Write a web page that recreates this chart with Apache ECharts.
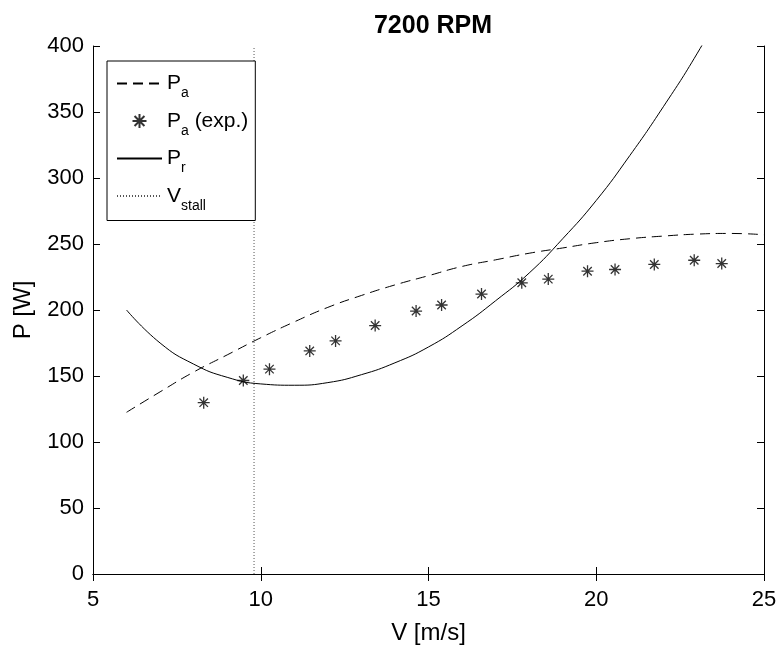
<!DOCTYPE html>
<html>
<head>
<meta charset="utf-8">
<script src="https://cdn.jsdelivr.net/npm/echarts@6/dist/echarts.min.js"></script>
<style>html,body{margin:0;padding:0;background:#fff}#c{width:777px;height:646px}</style>
</head>
<body>
<div id="c"></div>
<script>
// Pa (model) curve
const paV = [6, 7, 8, 9, 10, 11, 12, 13, 14, 15, 16, 17, 18, 19, 20, 21, 22, 23, 24, 25];
const paP = [122.5, 138, 153, 166, 179, 191, 202, 211, 219, 226, 233, 238, 243, 247, 251, 254, 256, 257.5, 258, 257];
// Pa experimental points
const expV = [8.3, 9.48, 10.26, 11.46, 12.23, 13.41, 14.63, 15.39, 16.58, 17.78, 18.57, 19.74, 20.56, 21.73, 22.92, 23.74];
const expP = [129.8, 146.6, 155.2, 169, 176.6, 188.2, 199.2, 203.8, 212.1, 220.6, 223.4, 229.4, 230.7, 234.5, 237.7, 235.2];
// Pr curve
const prV = [6, 7, 8, 9, 10, 11, 12, 13, 14, 15, 16, 17, 18, 19, 20, 21, 22, 23, 24];
const prP = [200, 175, 159, 149, 144, 143, 145, 151, 160, 172, 188, 207, 228, 254, 283, 317, 354, 394, 439];
// stall speed
const vStall = 9.8;
const stallP = [0, 400];
const xTicks = [5, 10, 15, 20, 25];
const yTicks = [0, 50, 100, 150, 200, 250, 300, 350, 400];

const zip = (a, b) => a.map((v, i) => [v, b[i]]);
const FONT = 'Liberation Sans, Arial, Helvetica, sans-serif';
const star = 'path://M0,-1L0,1M-1,0L1,0M-0.707,-0.707L0.707,0.707M-0.707,0.707L0.707,-0.707';
const rich = {
  m: {fontSize: 21, fontFamily: FONT, color: '#000'},
  s: {fontSize: 14, fontFamily: FONT, color: '#000', padding: [20, 0, 0, 0]}
};
const names = {
  'Pa': '{m|P}{s|a}',
  'PaExp': '{m|P}{s|a}{m| (exp.)}',
  'Pr': '{m|P}{s|r}',
  'Vstall': '{m|V}{s|stall}'
};
const hideSym = {opacity: 0};
const axisLineStyle = {color: '#000', width: 1};
const chart = echarts.init(document.getElementById('c'));
chart.setOption({
  animation: false,
  backgroundColor: '#fff',
  title: {
    text: '7200 RPM', left: 428, top: 9, textAlign: 'center',
    textStyle: {fontFamily: FONT, fontSize: 25, fontWeight: 'bold', color: '#000'}
  },
  grid: {left: 93, right: 13, top: 46, bottom: 72, outerBoundsMode: 'none', containLabel: false},
  legend: {
    left: 107, top: 61, orient: 'vertical',
    backgroundColor: '#fff', borderColor: '#000', borderWidth: 1,
    padding: [12, 7, 7.5, 9], itemWidth: 45, itemHeight: 14, itemGap: 10,
    textStyle: {fontFamily: FONT, fontSize: 21, color: '#000', rich: rich},
    formatter: n => names[n],
    data: [
      {name: 'Pa', itemStyle: hideSym},
      {name: 'PaExp'},
      {name: 'Pr', itemStyle: hideSym},
      {name: 'Vstall', itemStyle: hideSym}
    ]
  },
  xAxis: [{
    type: 'value', min: xTicks[0], max: xTicks[xTicks.length - 1], interval: 5,
    name: 'V [m/s]', nameLocation: 'middle', nameGap: 47,
    nameTextStyle: {fontFamily: FONT, fontSize: 24, color: '#000'},
    axisLine: {show: true, lineStyle: axisLineStyle},
    axisTick: {show: true, inside: true, length: 7, lineStyle: axisLineStyle},
    axisLabel: {fontFamily: FONT, fontSize: 22, color: '#000', margin: 15},
    splitLine: {show: false}
  }, {
    type: 'value', position: 'top', min: xTicks[0], max: xTicks[xTicks.length - 1], interval: 5,
    axisLine: {show: true, lineStyle: axisLineStyle},
    axisTick: {show: true, inside: true, length: 7, lineStyle: axisLineStyle},
    axisLabel: {show: false}, splitLine: {show: false}
  }],
  yAxis: [{
    type: 'value', min: yTicks[0], max: yTicks[yTicks.length - 1], interval: 50,
    name: 'P [W]', nameLocation: 'middle', nameGap: 58, nameRotate: 90,
    nameTextStyle: {fontFamily: FONT, fontSize: 24, color: '#000'},
    axisLine: {show: true, lineStyle: axisLineStyle},
    axisTick: {show: true, inside: true, length: 7, lineStyle: axisLineStyle},
    axisLabel: {fontFamily: FONT, fontSize: 22, color: '#000', margin: 9},
    splitLine: {show: false}
  }, {
    type: 'value', position: 'right', min: yTicks[0], max: yTicks[yTicks.length - 1], interval: 50,
    axisLine: {show: true, lineStyle: axisLineStyle},
    axisTick: {show: true, inside: true, length: 7, lineStyle: axisLineStyle},
    axisLabel: {show: false}, splitLine: {show: false}
  }],
  series: [{
    name: 'Pa', type: 'line', smooth: true, symbol: 'none', clip: true,
    data: zip(paV, paP),
    lineStyle: {color: '#000', width: 1, type: [10, 6]},
    itemStyle: {color: '#000'}
  }, {
    name: 'PaExp', type: 'scatter', symbol: star, symbolSize: 12,
    data: zip(expV, expP),
    itemStyle: {color: 'rgba(0,0,0,0)', borderColor: '#000', borderWidth: 1.3}
  }, {
    name: 'Pr', type: 'line', smooth: true, symbol: 'none', clip: true,
    data: zip(prV, prP),
    lineStyle: {color: '#000', width: 1},
    itemStyle: {color: '#000'}
  }, {
    name: 'Vstall', type: 'line', symbol: 'none',
    data: stallP.map(p => [vStall, p]),
    lineStyle: {color: '#555', width: 1, type: [1, 2]},
    itemStyle: {color: '#555'}
  }]
});
</script>
</body>
</html>
